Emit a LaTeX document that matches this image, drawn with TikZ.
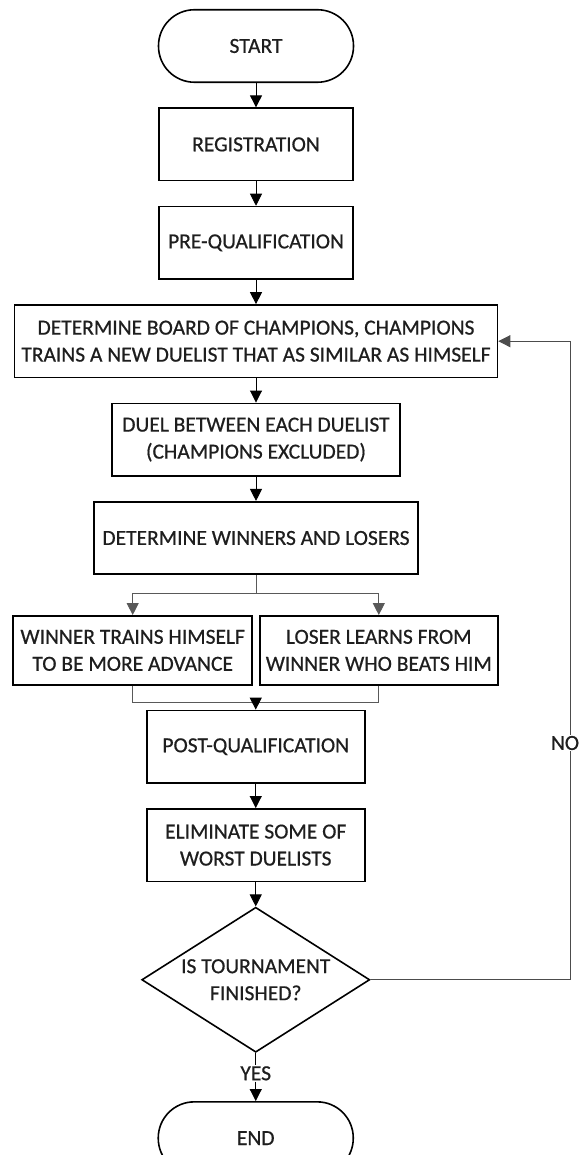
\documentclass[tikz,border=0pt]{standalone}
\usepackage{fontspec}
\setmainfont[FakeBold=0.6]{Carlito}
\usepackage{tikz}
\usetikzlibrary{arrows.meta,positioning,calc,shapes.geometric}
\definecolor{ink}{HTML}{1E1E1E}
\tikzstyle{process}=[draw,line width=1.6pt,fill=white,text=ink,align=center,minimum width=218pt,minimum height=72.5pt,inner sep=2pt]
\tikzstyle{terminal}=[process,rounded corners=36pt,minimum width=195pt]
\tikzstyle{decision}=[draw,line width=1.6pt,diamond,aspect=1.57,minimum width=228pt,minimum height=145pt,inner sep=0pt,text=ink,align=center]
\tikzstyle{lbl}=[text=ink,fill=white,inner sep=1pt]
\tikzstyle{arrow}=[line width=0.9pt,-{Triangle[width=12pt,length=12pt]}]
\tikzstyle{branch}=[line width=1pt,draw=black!65]

\begin{document}
\begin{tikzpicture}[font=\fontsize{21.5}{27}\selectfont,node distance=24.3pt]
\useasboundingbox (0,0) rectangle (581pt,-1155pt);
\node [terminal] (start) at (256pt,-46pt) {START};
\node [process, minimum width=194pt, below=of start] (reg) {REGISTRATION};
\node [process, minimum width=194pt, below=of reg] (preq) {PRE-QUALIFICATION};
\node [process, minimum width=483pt, below=of preq] (board) {DETERMINE BOARD OF CHAMPIONS, CHAMPIONS\\TRAINS A NEW DUELIST THAT AS SIMILAR AS HIMSELF};
\node [process, minimum width=288pt, below=of board] (duel) {DUEL BETWEEN EACH DUELIST\\(CHAMPIONS EXCLUDED)};
\node [process, minimum width=324pt, below=of duel] (winners) {DETERMINE WINNERS AND LOSERS};
\coordinate [below=18pt of winners] (fork);
\node [process, minimum width=239pt, minimum height=69pt, below=40pt of winners.south, anchor=north east, xshift=-3pt] (winner) {WINNER TRAINS HIMSELF\\TO BE MORE ADVANCE};
\node [process, minimum width=238pt, minimum height=69pt, below=40pt of winners.south, anchor=north west, xshift=3pt] (loser) {LOSER LEARNS FROM\\WINNER WHO BEATS HIM};
\coordinate (join) at ($(winner.south)!.5!(loser.south)+(0,-17pt)$);
\node [process, below=7pt of join] (post) {POST-QUALIFICATION};
\node [process, below=of post] (elim) {ELIMINATE SOME OF\\WORST DUELISTS};
\node [decision, below=of elim] (done) {IS TOURNAMENT\\FINISHED?};
\node [lbl, below=12pt of done] (yes) {YES};
\node [terminal, below=48pt of done] (end) {END};
\node [lbl] (no) at (565pt,-743pt) {NO};

\draw [arrow] (start) -- (reg);
\draw [arrow] (reg) -- (preq);
\draw [arrow] (preq) -- (board);
\draw [arrow] (board) -- (duel);
\draw [arrow] (duel) -- (winners);
\draw [branch] (winners) -- (fork);
\draw [branch,arrow,draw=black!65] (fork) -| (winner);
\draw [branch,arrow,draw=black!65] (fork) -| (loser);
\draw [branch] (winner.south) |- (join);
\draw [branch] (loser.south) |- (join);
\draw [arrow] (join) -- (post);
\draw [arrow] (post) -- (elim);
\draw [arrow] (elim) -- (done);
\draw [line width=0.9pt] (done) -- (yes);
\draw [arrow] (yes) -- (end);
\draw [line width=0.9pt,draw=black!70] (done.east) -| ([xshift=5pt]no.south);
\draw [arrow,draw=black!70] ([xshift=5pt]no.north) |- (board.east);
\end{tikzpicture}
\end{document}
